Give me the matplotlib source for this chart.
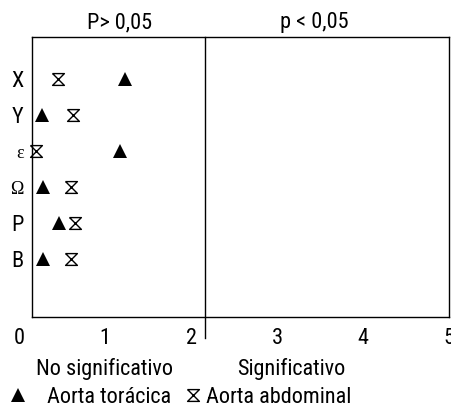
import matplotlib
matplotlib.use("Agg")
import matplotlib.pyplot as plt

plt.rcParams["font.family"] = ["Roboto Condensed", "DejaVu Sans"]

# rows, top to bottom
rows = ["X", "Y", "ε", "Ω", "P", "B"]
toracica = [1.23, 0.27, 1.17, 0.28, 0.46, 0.28]
abdominal = [0.45, 0.63, 0.20, 0.60, 0.65, 0.60]
x_ticks = [0, 1, 2, 3, 4, 5]
cutoff = 2.16  # border between the two zones

hourglass = [(-1, 1), (1, 1), (-1, -1), (1, -1), (-1, 1)]

fig = plt.figure(figsize=(4.52, 4.07), dpi=100)
ax = fig.add_axes([0.0708, 0.2211, 0.9226, 0.688])

ypos = list(range(len(rows)))
tri, = ax.plot(toracica, ypos, ls="none", marker="^", ms=9.5, color="black",
               mew=0, label="Aorta torácica", clip_on=False)
hg, = ax.plot(abdominal, ypos, ls="none", marker=hourglass, ms=8.5, mfc="white",
              mec="black", mew=1.0, label="Aorta abdominal", clip_on=False)

ax.set_xlim(0.15, 5.0)
ax.set_ylim(6.61, -1.17)

for s in ax.spines.values():
    s.set_linewidth(1.0)
ax.axvline(cutoff, ymin=-0.075, ymax=1, color="black", lw=1.0, clip_on=False)

ax.set_xticks([])
ax.set_yticks(ypos)
ax.set_yticklabels(rows, fontsize=16)
ax.tick_params(axis="y", length=0, pad=6)
for lab in ax.get_yticklabels():
    if lab.get_text() in ("ε", "Ω"):
        lab.set_family(["Liberation Serif", "DejaVu Serif"])
        lab.set_fontsize(13)

# x tick labels sit outside the frame
trans = ax.get_xaxis_transform()
for t in x_ticks:
    ax.text(t, -0.075, str(t), transform=trans, ha="center", va="center",
            fontsize=16, clip_on=False)

ax.text(0.211, 1.05, "P> 0,05", transform=ax.transAxes, ha="center",
        va="center", fontsize=16)
ax.text(0.676, 1.05, "p < 0,05", transform=ax.transAxes, ha="center",
        va="center", fontsize=16)
ax.text(0.175, -0.186, "No significativo", transform=ax.transAxes,
        ha="center", va="center", fontsize=16)
ax.text(0.621, -0.186, "Significativo", transform=ax.transAxes,
        ha="center", va="center", fontsize=16)

# two separate legend boxes, the gaps differ in the original
fig.legend(handles=[tri], loc="center left", bbox_to_anchor=(0.015, 0.024),
           frameon=False, fontsize=16, handlelength=1.0,
           handletextpad=0.8, borderaxespad=0, borderpad=0)
fig.legend(handles=[hg], loc="center left", bbox_to_anchor=(0.403, 0.024),
           frameon=False, fontsize=16, handlelength=1.0,
           handletextpad=0.08, borderaxespad=0, borderpad=0)

fig.savefig("out.png", dpi=100)
